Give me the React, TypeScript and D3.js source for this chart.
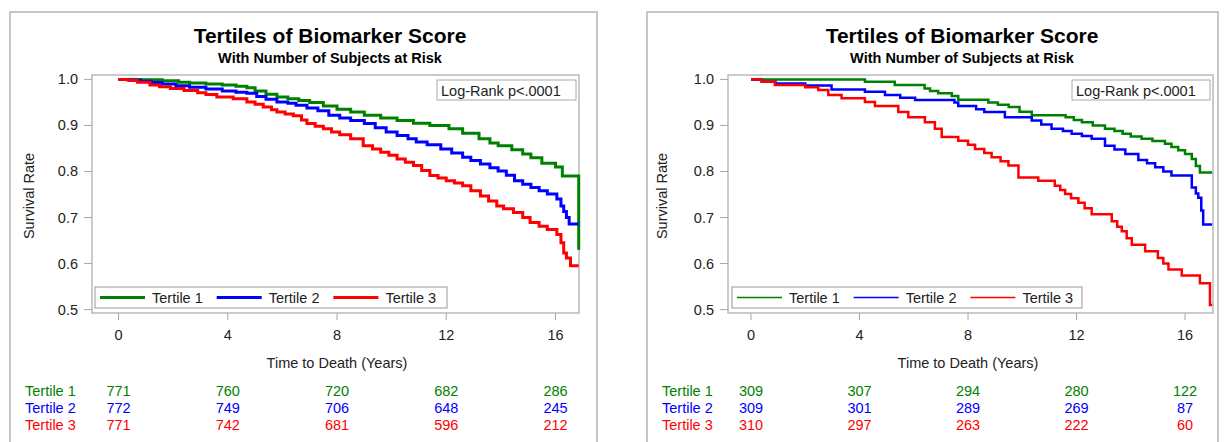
import React from 'react'
import * as d3 from 'd3'

// survival curves, [years, survival] steps
const leftTertile1 = [[0, 1], [0.8, 0.999], [1.6, 0.997], [2.2, 0.994], [2.6, 0.992], [3.2, 0.99], [3.8, 0.988], [4.3, 0.985], [4.7, 0.982], [5.0, 0.975], [5.4, 0.968], [5.8, 0.962], [6.2, 0.958], [6.6, 0.954], [7.0, 0.95], [7.5, 0.942], [8.0, 0.935], [8.5, 0.929], [9.0, 0.922], [9.6, 0.916], [10.2, 0.911], [10.8, 0.905], [11.4, 0.9], [12.1, 0.893], [12.6, 0.883], [13.2, 0.871], [13.6, 0.862], [13.9, 0.856], [14.4, 0.847], [14.8, 0.838], [15.1, 0.83], [15.5, 0.818], [16.0, 0.81], [16.25, 0.79], [16.85, 0.63]]
const leftTertile2 = [[0, 1], [0.4, 0.998], [0.8, 0.996], [1.2, 0.993], [1.6, 0.99], [2.1, 0.986], [2.6, 0.983], [3.2, 0.979], [3.8, 0.975], [4.3, 0.972], [4.7, 0.97], [5.06, 0.963], [5.4, 0.957], [5.8, 0.951], [6.2, 0.948], [6.5, 0.944], [6.9, 0.938], [7.3, 0.932], [7.7, 0.922], [8.1, 0.916], [8.5, 0.911], [9.0, 0.904], [9.4, 0.895], [9.8, 0.886], [10.2, 0.878], [10.6, 0.871], [10.9, 0.864], [11.3, 0.858], [11.8, 0.849], [12.2, 0.84], [12.6, 0.831], [12.9, 0.824], [13.25, 0.816], [13.6, 0.808], [13.9, 0.801], [14.2, 0.792], [14.5, 0.78], [14.8, 0.772], [15.1, 0.765], [15.4, 0.758], [15.7, 0.751], [16.05, 0.74], [16.2, 0.725], [16.3, 0.713], [16.4, 0.7], [16.5, 0.686], [16.85, 0.686]]
const leftTertile3 = [[0, 1], [0.35, 0.998], [0.7, 0.994], [1.15, 0.988], [1.5, 0.984], [1.9, 0.98], [2.4, 0.976], [2.9, 0.971], [3.2, 0.967], [3.6, 0.962], [4.2, 0.958], [4.7, 0.951], [5.0, 0.946], [5.3, 0.94], [5.6, 0.934], [5.8, 0.929], [6.1, 0.925], [6.4, 0.921], [6.7, 0.912], [6.9, 0.904], [7.2, 0.898], [7.5, 0.893], [7.8, 0.886], [8.1, 0.88], [8.5, 0.871], [8.96, 0.856], [9.3, 0.849], [9.6, 0.842], [9.9, 0.835], [10.2, 0.827], [10.5, 0.82], [10.8, 0.813], [11.1, 0.802], [11.4, 0.791], [11.7, 0.786], [12.0, 0.78], [12.3, 0.775], [12.6, 0.769], [12.9, 0.758], [13.25, 0.747], [13.55, 0.736], [13.85, 0.725], [14.1, 0.719], [14.46, 0.711], [14.8, 0.7], [15.07, 0.689], [15.4, 0.681], [15.7, 0.674], [16.05, 0.663], [16.2, 0.645], [16.3, 0.623], [16.4, 0.612], [16.55, 0.595], [16.85, 0.595]]

const rightTertile1 = [[0, 1], [4.2, 0.995], [5.3, 0.988], [6.4, 0.98], [6.6, 0.975], [6.9, 0.97], [7.4, 0.964], [7.64, 0.956], [8.75, 0.95], [9.1, 0.945], [9.5, 0.94], [9.9, 0.93], [10.35, 0.922], [11.6, 0.918], [11.9, 0.912], [12.2, 0.907], [12.6, 0.9], [13.05, 0.893], [13.4, 0.888], [13.7, 0.882], [14.0, 0.876], [14.4, 0.871], [14.8, 0.866], [15.26, 0.86], [15.5, 0.853], [15.75, 0.846], [16.0, 0.838], [16.25, 0.827], [16.4, 0.812], [16.55, 0.798], [17.0, 0.798]]
const rightTertile2 = [[0, 1], [0.4, 0.995], [0.9, 0.991], [2.0, 0.987], [2.97, 0.978], [4.2, 0.973], [4.94, 0.966], [5.5, 0.96], [6.05, 0.955], [7.5, 0.95], [7.64, 0.942], [8.3, 0.935], [8.6, 0.929], [9.36, 0.918], [10.35, 0.911], [10.7, 0.902], [11.08, 0.893], [11.5, 0.888], [11.82, 0.882], [12.2, 0.877], [12.56, 0.871], [13.05, 0.856], [13.4, 0.848], [13.8, 0.838], [14.28, 0.825], [14.6, 0.818], [14.9, 0.809], [15.2, 0.8], [15.5, 0.791], [16.25, 0.765], [16.4, 0.752], [16.49, 0.743], [16.6, 0.715], [16.67, 0.685], [17.0, 0.685]]
const rightTertile3 = [[0, 1], [0.39, 0.995], [0.88, 0.988], [2.0, 0.983], [2.48, 0.977], [2.85, 0.966], [3.34, 0.959], [4.2, 0.951], [4.57, 0.942], [5.43, 0.929], [5.8, 0.918], [6.41, 0.907], [6.78, 0.893], [7.03, 0.875], [7.64, 0.867], [8.0, 0.858], [8.26, 0.849], [8.6, 0.84], [8.87, 0.831], [9.2, 0.822], [9.49, 0.813], [9.86, 0.787], [10.59, 0.78], [11.2, 0.769], [11.4, 0.76], [11.58, 0.751], [11.8, 0.742], [12.07, 0.732], [12.3, 0.72], [12.56, 0.707], [13.3, 0.692], [13.5, 0.68], [13.67, 0.67], [13.85, 0.655], [14.04, 0.641], [14.53, 0.627], [15.0, 0.612], [15.2, 0.6], [15.39, 0.587], [15.88, 0.574], [16.55, 0.557], [16.92, 0.51], [17.0, 0.51]]

// numbers at risk at years 0, 4, 8, 12, 16
const leftAtRisk1 = [771, 760, 720, 682, 286]
const leftAtRisk2 = [772, 749, 706, 648, 245]
const leftAtRisk3 = [771, 742, 681, 596, 212]
const rightAtRisk1 = [309, 307, 294, 280, 122]
const rightAtRisk2 = [309, 301, 289, 269, 87]
const rightAtRisk3 = [310, 297, 263, 222, 60]

const xTicks = [0, 4, 8, 12, 16]
const yTicks = [0.5, 0.6, 0.7, 0.8, 0.9, 1.0]
const seriesNames = ['Tertile 1', 'Tertile 2', 'Tertile 3']
const colors = ['#008000', '#0000ff', '#ff0000']

const FONT = '"Liberation Sans", Arial, sans-serif'
const GRAY = '#a8a8a8'
const FS = 14.5

const panels = [
    {
        box: [10, 12, 587],
        frame: [92, 579, 75, 313],
        xr: [118.5, 555.5],
        titleX: 330, ylabX: 34, rowLabelX: 25,
        logrank: [437, 576],
        legend: [95, 447],
        curveW: 3, legendW: 3,
        curves: [leftTertile1, leftTertile2, leftTertile3],
        atRisk: [leftAtRisk1, leftAtRisk2, leftAtRisk3],
    },
    {
        box: [647, 12, 571],
        frame: [728, 1213, 75, 313],
        xr: [751, 1185],
        titleX: 962, ylabX: 667, rowLabelX: 662,
        logrank: [1072, 1210],
        legend: [732, 1082],
        curveW: 2.5, legendW: 1.5,
        curves: [rightTertile1, rightTertile2, rightTertile3],
        atRisk: [rightAtRisk1, rightAtRisk2, rightAtRisk3],
    },
]

function Panel({ p }) {
    var x = d3.scaleLinear().domain([0, 16]).range(p.xr)
    var y = d3.scaleLinear().domain([0.5, 1]).range([309.6, 79.4])
    var line = d3.line().x(d => x(d[0])).y(d => y(d[1])).curve(d3.curveStepAfter)
    var [fx0, fx1, fy0, fy1] = p.frame
    var [lx0, lx1] = p.legend
    var pitch = 116.7

    return (
        <g fontFamily={FONT}>
            <rect x={p.box[0]} y={p.box[1]} width={p.box[2]} height={460} fill="#fff" stroke="#b4b4b4" strokeWidth={1.5} />
            <text x={p.titleX} y={43} textAnchor="middle" fontWeight="bold" fontSize={21} fill="#000">Tertiles of Biomarker Score</text>
            <text x={p.titleX} y={63} textAnchor="middle" fontWeight="bold" fontSize={14.5} fill="#000">With Number of Subjects at Risk</text>

            <rect x={fx0} y={fy0} width={fx1 - fx0} height={fy1 - fy0} fill="none" stroke={GRAY} strokeWidth={1.2} />

            {yTicks.map(t => (
                <g key={t}>
                    <line x1={fx0 - 8} x2={fx0} y1={y(t)} y2={y(t)} stroke={GRAY} />
                    <text x={fx0 - 14} y={y(t) + 5} textAnchor="end" fontSize={FS} fill="#222">{d3.format('.1f')(t)}</text>
                </g>
            ))}
            {xTicks.map(t => (
                <g key={t}>
                    <line x1={x(t)} x2={x(t)} y1={fy1} y2={fy1 + 7} stroke={GRAY} />
                    <text x={x(t)} y={340} textAnchor="middle" fontSize={FS} fill="#222">{t}</text>
                </g>
            ))}
            <text x={(x(0) + x(16)) / 2} y={368} textAnchor="middle" fontSize={FS} fill="#222">Time to Death (Years)</text>
            <text transform={`translate(${p.ylabX},196) rotate(-90)`} textAnchor="middle" fontSize={FS} fill="#222">Survival Rate</text>

            {p.curves.map((c, i) => (
                <path key={i} d={line(c)} fill="none" stroke={colors[i]} strokeWidth={p.curveW} />
            ))}

            <rect x={p.logrank[0]} y={80} width={p.logrank[1] - p.logrank[0]} height={20} fill="#fff" stroke={GRAY} />
            <text x={p.logrank[0] + 4} y={95.5} fontSize={FS} fill="#222">Log-Rank p&lt;.0001</text>

            <rect x={lx0} y={287} width={lx1 - lx0} height={21} fill="#fff" stroke={GRAY} strokeWidth={1.2} />
            {seriesNames.map((s, i) => (
                <g key={s}>
                    <line x1={lx0 + 5 + i * pitch} x2={lx0 + 50 + i * pitch} y1={297.5} y2={297.5} stroke={colors[i]} strokeWidth={p.legendW} />
                    <text x={lx0 + 57 + i * pitch} y={303} fontSize={FS} fill="#222">{s}</text>
                </g>
            ))}

            {p.atRisk.map((row, i) => (
                <g key={i} fill={colors[i]} fontSize={FS}>
                    <text x={p.rowLabelX} y={396 + i * 17}>{seriesNames[i]}</text>
                    {row.map((v, j) => (
                        <text key={j} x={x(xTicks[j])} y={396 + i * 17} textAnchor="middle">{v}</text>
                    ))}
                </g>
            ))}
        </g>
    )
}

export default function App() {
    return (
        <svg width={1228} height={442} style={{ position: 'absolute', left: 0, top: 0, background: '#fff' }}>
            <rect width={1228} height={442} fill="#fff" />
            {panels.map((p, i) => <Panel key={i} p={p} />)}
        </svg>
    )
}
